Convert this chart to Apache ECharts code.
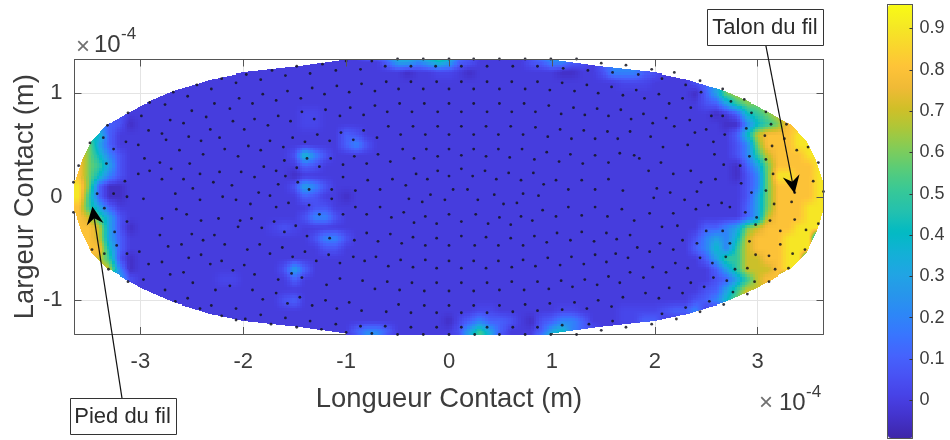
<!DOCTYPE html>
<html><head><meta charset="utf-8">
<style>html,body{margin:0;padding:0;background:#fff}#c{width:950px;height:440px}</style>
<script src="https://cdn.jsdelivr.net/npm/echarts@6/dist/echarts.min.js"></script></head>
<body><div id="c"></div>
<script>
// ---- axis ticks (unit: 1e-4 m) ----
const xTicks=[-3,-2,-1,0,1,2,3];
const yTicks=[-1,0,1];
const xLimit=[-3.64,3.64];
const yLimit=[-1.325,1.325];
const barTicks=[0,0.1,0.2,0.3,0.4,0.5,0.6,0.7,0.8,0.9];
const barLimit=[-0.091,0.958];
const parula=['#3E26A8','#4332CB','#4741E5','#4852F4','#4563FD','#3875FE','#2D87F7','#2796EB','#20A5E3','#12B1D6','#02BAC3','#24C1AE','#37C897','#57CC7A','#80CC59','#ABC739','#D1BF27','#F0BA36','#FEC338','#FAD62D','#F5E924','#F9FB15'];
// ---- contact outline, half height at |x| ----
const outlineX=[0,1.0,1.48,2.0,2.32,2.68,2.91,3.12,3.325,3.475,3.58,3.64];
const outlineY=[1.325,1.325,1.257,1.2,1.13,1.02,.92,.81,.69,.54,.33,.14];
// ---- pressure field: rows y=1.4..-1.4, nodes every 0.1; spans [xStart,levels]; everything else is the base level ----
const levelOf={'-':-0.05,'.':-0.006,'~':0.025,'+':0.06,'1':.1,'2':.2,'3':.3,'4':.4,'5':.5,'6':.6,'7':.7,'8':.8,'9':.9};
const fieldSpans=[
[[-.8,"33"],[-.6,"34445762"],[.9,"34442"]],
[[-.6,"13323431+"],[.8,"+1221+"],[1.5,"1222"]],
[[-.4,"-"],[-.1,"~~"],[.2,"-"],[1.1,"--"],[1.5,"+2221+"]],
[[1.7,"~~~"],[2.4,"+135"]],
[[2.4,"-"],[2.5,"136777"]],
[[2.5,"+135667"]],
[[-3.2,"+"],[-1.4,"~~"],[2.6,"-.145678"]],
[[-3.4,"21+-"],[-1.4,"~~"],[2.7,"--245688"]],
[[-3.5,"441"],[-1.0,"1+"],[2.8,"14788899"]],
[[-3.6,"7631"],[-1.0,"12+"],[2.8,"+26888999"]],
[[-3.7,"88642+"],[-1.5,"+42+"],[2.8,"+25788899"]],
[[-3.7,"88653+"],[-1.4,"1+"],[2.8,"-136888899"]],
[[-3.7,"88642+"],[-1.5,"-"],[2.8,"-+26998899"]],
[[-3.7,"9961--"],[-1.5,"+32+"],[2.9,"+26888899"]],
[[-3.7,"9951--"],[-1.4,"1+"],[-1.0,"-"],[2.9,"+36888899"]],
[[-3.7,"88531"],[-1.3,"++"],[2.9,"136888999"]],
[[-3.7,"88753+"],[-1.4,"+22+"],[2.9,"137888999"]],
[[-3.7,"88873+-"],[-1.7,"~+~"],[2.5,"112367888999"]],
[[-3.7,"888731"],[-1.3,"+22+"],[2.4,"+23247888999"]],
[[-3.7,"888841"],[-1.2,"++"],[2.4,"124257888999"]],
[[-3.5,"875+-"],[2.5,"1355778899"]],
[[-3.4,"872-"],[-1.6,"+31"],[2.5,".135777899"]],
[[-3.2,"3+"],[-2.2,"~~"],[-1.5,"1"],[2.5,".+135788"]],
[[2.5,"+135777"]],
[[-1.6,"+1"],[2.4,"+12468"]],
[[.3,"~~"],[1.1,"~~"],[1.7,"~~~~+112"]],
[[0,"-"],[.1,"~1211+"],[.8,"-"],[.9,"+1221"],[1.7,"~~11"]],
[[-.9,"1221"],[.1,"+3531"],[.9,"13421+"]],
[[-.8,"33"],[.2,"464"],[.9,"3553"]]
];
// ---- mesh nodes: x,y pairs, unit 1e-6 m ----
const meshNodes=[
-197,118,-172,122,-148,126,-123,128,-100,131,-75,131,-183,113,-159,117,-135,119,-110,122,-86,123,
-181,99,-157,102,-133,105,-109,107,-85,109,-191,90,-168,93,-144,95,-121,99,-97,101,-72,102,
-189,75,-166,78,-143,82,-120,84,-96,86,-72,88,-199,65,-176,69,-154,73,-131,75,-106,78,-83,79,
-195,49,-174,54,-152,57,-128,60,-105,62,-83,64,-183,45,-161,48,-140,53,-116,54,-93,55,-70,57,
-160,35,-138,37,-115,37,-92,39,-69,41,-180,29,-168,25,-148,28,-126,29,-103,31,-80,32,
-202,24,-189,19,-159,20,-103,19,-79,16,-166,12,-147,14,-136,7,-114,7,-91,6,-67,7,
-185,4,-174,1,-156,-6,-136,-8,-114,-2,-91,-10,-67,-10,-193,-7,-168,-10,-126,-17,-103,-17,-80,-17,
-192,-21,-170,-24,-149,-28,-138,-38,-160,-34,-116,-40,-92,-42,-80,-35,-182,-30,-184,-46,-162,-49,-196,-51,-140,-53,-117,-56,-93,-58,-69,-43,-71,-58,
-174,-55,-152,-58,-129,-62,-106,-64,-82,-62,-199,-66,-189,-75,-153,-74,-166,-80,-143,-78,-119,-85,-106,-79,-84,-81,
-191,-90,-168,-93,-145,-97,-120,-100,-97,-102,-72,-89,-181,-99,-157,-103,-133,-105,-109,-108,-85,-110,
-183,-114,-159,-117,-135,-120,-110,-123,-86,-125,-198,-118,-173,-123,-148,-126,-124,-128,-100,-131,-75,-132,
-221,114,-245,108,-268,101,-291,91,-312,81,-332,69,-349,52,-360,30,-365,14,-365,-15,-207,110,-231,104,-254,97,-276,89,-299,78,
-204,95,-228,90,-250,83,-271,74,-292,64,-314,53,-336,57,-333,32,-213,85,-236,77,-258,71,-279,61,-302,50,-326,46,
-210,73,-232,65,-253,58,-275,55,-296,37,-302,22,-223,57,-241,54,-262,45,-281,33,-205,39,-218,46,-239,41,-252,32,-270,27,-291,25,-315,15,-342,3,
-223,24,-242,22,-258,17,-279,17,-211,11,-229,14,-249,8,-266,3,-297,-2,-313,0,-326,3,-207,-3,-220,0,-242,-3,-265,-12,-279,-21,-313,-24,-335,-11,
-224,-21,-241,-23,-203,-23,-255,-17,
-347,-51,-335,-55,-331,-70,-323,-47,-313,-55,-325,-34,-301,-53,-297,-80,-292,-65,-281,-37,-279,-63,-273,-48,-271,-75,-260,-46,-258,-73,-253,-59,-250,-36,-249,-83,-241,-56,-239,-42,-232,-65,-228,-37,-227,-90,-221,-62,-218,-46,-213,-86,-210,-71,-207,-108,-205,-29,
-276,-90,-266,-101,-254,-98,-231,-105,-221,-115,-242,-108,-312,-82,-207,-119,
197,123,219,120,244,112,266,104,287,94,308,82,328,70,349,48,359,33,364,5,207,114,230,108,245,101,274,92,294,81,313,70,326,56,338,45,354,15,
190,95,214,90,204,99,227,95,235,86,255,78,266,78,289,66,307,59,314,49,189,80,211,76,234,74,250,65,219,68,239,62,198,71,196,58,208,48,232,50,257,53,268,60,292,39,308,36,315,22,
206,33,235,25,218,22,245,14,259,17,267,31,283,30,284,13,258,41,185,37,194,25,202,8,215,4,229,-3,199,-1,241,5,265,-6,294,4,308,6,333,-5,316,-7,336,4,
218,-16,240,-12,252,-8,273,-10,288,-15,312,-23,336,-22,359,-26,299,-20,195,-16,
207,-29,222,-28,250,-33,266,-33,298,-27,322,-33,347,-32,292,-43,273,-45,241,-45,227,-42,205,-45,322,-46,298,-56,311,-57,334,-55,346,-51,269,-58,244,-59,218,-51,195,-53,198,-68,220,-64,232,-69,256,-64,278,-70,290,-69,317,-70,330,-69,
189,-78,211,-73,235,-83,257,-78,270,-81,297,-82,311,-82,191,-93,214,-88,227,-93,248,-87,276,-92,290,-94,204,-98,253,-101,267,-104,230,-107,244,-111,207,-113,221,-118,197,-123,
-50,133,-25,133,0,133,24,133,49,133,74,133,99,133,124,133,148,129,172,127,
-62,126,-37,126,-13,126,12,126,37,126,62,126,86,126,111,124,135,122,159,120,184,118,
-61,111,-37,111,-12,111,12,111,37,111,61,111,86,111,110,110,134,108,158,106,182,103,
-49,104,-25,104,0,104,24,104,49,104,74,104,98,103,122,102,145,100,169,98,
-48,90,-24,90,0,90,24,90,49,90,73,90,97,88,121,86,144,85,167,84,
-60,82,-36,82,-11,82,12,82,37,82,61,82,84,82,109,80,132,79,155,78,177,75,
-59,68,-35,68,-11,68,12,68,36,68,60,68,84,67,108,65,131,64,154,63,176,63,
-47,60,-23,60,0,60,24,60,48,60,72,60,96,58,119,56,142,56,164,56,
-45,46,-22,46,0,46,24,46,48,46,71,46,95,43,118,41,142,40,166,42,180,40,
-57,34,-34,37,-11,39,12,40,36,39,59,38,83,36,107,34,130,32,155,33,
-32,22,-11,25,12,27,35,25,23,20,-55,17,-21,17,0,20,46,17,58,23,70,16,82,23,92,12,104,16,129,16,155,17,
-42,11,-18,2,4,7,18,7,44,2,72,3,87,1,116,7,142,7,169,6,
-39,-2,-26,-5,-4,-3,28,-3,53,-7,66,-6,91,-13,116,-10,142,-10,168,-12,
-44,-15,-23,-19,0,-17,26,-17,49,-20,70,-19,81,-23,104,-19,129,-18,154,-19,180,-23,
-56,-20,-34,-25,-12,-26,12,-24,38,-26,60,-27,
-57,-36,-35,-39,-12,-40,12,-38,36,-39,60,-40,83,-38,105,-35,129,-34,153,-35,176,-37,
-46,-45,-23,-47,0,-47,25,-47,48,-47,72,-47,95,-44,118,-42,141,-43,163,-41,183,-49,
-47,-61,-23,-61,0,-62,24,-62,48,-62,72,-61,96,-59,119,-58,142,-56,162,-55,
-59,-67,-35,-68,-12,-69,12,-69,36,-69,61,-68,84,-67,108,-66,131,-65,153,-63,174,-59,
-60,-82,-36,-83,-12,-83,12,-83,37,-83,61,-82,86,-82,109,-81,132,-80,155,-77,176,-73,
-48,-90,-24,-91,0,-91,24,-91,49,-90,73,-90,97,-89,120,-87,144,-85,166,-83,
-49,-104,-24,-105,0,-105,24,-105,49,-105,74,-104,98,-103,122,-102,145,-100,169,-97,
-61,-111,-37,-112,-12,-112,12,-112,37,-112,62,-111,86,-110,110,-109,134,-108,158,-106,
-62,-125,-37,-126,-12,-126,12,-126,37,-126,62,-126,86,-126,110,-124,136,-123,159,-120,172,-126,
-50,-133,-25,-133,0,-133,25,-133,49,-133,74,-133,99,-133,124,-133,148,-129
];
// ---- annotations (unit: 1e-4 m) ----
const noteLabels=['Talon du fil','Pied du fil'];
const noteTails=[[3.078,1.469],[-3.178,-1.946]];
const noteTips=[[3.359,0.032],[-3.466,-0.094]];
const noteBoxes=[[3.071,1.638],[-3.173,-2.12]];

// ---- build ----
const nx=75, ny=29;
const base=levelOf['.'];
const field=fieldSpans.map(spans=>{
  const r=new Array(nx).fill(base);
  spans.forEach(([x0,s])=>{const i0=Math.round((x0+3.7)*10);for(let k=0;k<s.length;k++)r[i0+k]=levelOf[s[k]];});
  return r;
});
const gx=i=>-3.7+i*0.1, gy=j=>1.4-j*0.1;
const quads=[];
for(let j=0;j<ny-1;j++)for(let i=0;i<nx-1;i++)quads.push([+gx(i).toFixed(1),+gy(j).toFixed(1),field[j][i]]);
const edge=ax=>{
  if(ax>outlineX[outlineX.length-1])return -1;
  for(let k=1;k<outlineX.length;k++)if(ax<=outlineX[k]){const t=(ax-outlineX[k-1])/(outlineX[k]-outlineX[k-1]);return outlineY[k-1]+t*(outlineY[k]-outlineY[k-1]);}
  return -1;
};
const inside=(x,y)=>Math.abs(y)<=edge(Math.abs(x));
const rgb=parula.map(h=>[parseInt(h.slice(1,3),16),parseInt(h.slice(3,5),16),parseInt(h.slice(5,7),16)]);
const colorOf=v=>{
  let t=(v-barLimit[0])/(barLimit[1]-barLimit[0]);t=Math.max(0,Math.min(1,t))*(rgb.length-1);
  const k=Math.min(rgb.length-2,Math.floor(t)),f=t-k,a=rgb[k],b=rgb[k+1];
  return 'rgb('+Math.round(a[0]+f*(b[0]-a[0]))+','+Math.round(a[1]+f*(b[1]-a[1]))+','+Math.round(a[2]+f*(b[2]-a[2]))+')';
};
function renderField(params,api){
  const id=params.dataIndex,i=id%(nx-1),j=Math.floor(id/(nx-1));
  const x0=api.value(0),y0=api.value(1),x1=x0+0.1,y1=y0-0.1;
  const a=field[j][i],b=field[j][i+1],c=field[j+1][i],d=field[j+1][i+1];
  const p0=api.coord([x0,y0]),p1=api.coord([x1,y1]);
  const allIn=inside(x0,y0)&&inside(x1,y0)&&inside(x0,y1)&&inside(x1,y1);
  const rx=v=>Math.round(v);
  if(allIn&&a===b&&b===c&&c===d){
    return {type:'rect',silent:true,shape:{x:rx(p0[0]),y:rx(p0[1]),width:rx(p1[0])-rx(p0[0]),height:rx(p1[1])-rx(p0[1])},style:{fill:colorOf(a)}};
  }
  const SUB=allIn?4:10;
  const children=[];
  for(let sy=0;sy<SUB;sy++)for(let sx=0;sx<SUB;sx++){
    const u=(sx+.5)/SUB,w=(sy+.5)/SUB,xc=x0+u*.1,yc=y0-w*.1;
    if(!inside(xc,yc))continue;
    const v=a*(1-u)*(1-w)+b*u*(1-w)+c*(1-u)*w+d*u*w;
    const L=rx(p0[0]+(p1[0]-p0[0])*sx/SUB),R=rx(p0[0]+(p1[0]-p0[0])*(sx+1)/SUB);
    const T=rx(p0[1]+(p1[1]-p0[1])*sy/SUB),B=rx(p0[1]+(p1[1]-p0[1])*(sy+1)/SUB);
    if(R>L&&B>T)children.push({type:'rect',silent:true,shape:{x:L,y:T,width:R-L,height:B-T},style:{fill:colorOf(v)}});
  }
  return {type:'group',silent:true,children};
}
const dotData=[];
for(let k=0;k<meshNodes.length;k+=2)dotData.push([meshNodes[k]/100,meshNodes[k+1]/100]);
function renderNote(params,api){
  const tail=api.coord([api.value(0),api.value(1)]),tip=api.coord([api.value(2),api.value(3)]),box=api.coord([api.value(4),api.value(5)]);
  const w=params.dataIndex===0?116:106,h=36;
  const ang=Math.atan2(tip[1]-tail[1],tip[0]-tail[0]),ca=Math.cos(ang),sa=Math.sin(ang);
  const P=(al,pe)=>[tip[0]+ca*al-sa*pe,tip[1]+sa*al+ca*pe];
  return {type:'group',silent:true,children:[
    {type:'line',shape:{x1:tail[0],y1:tail[1],x2:tip[0]-ca*8,y2:tip[1]-sa*8},style:{stroke:'#111',lineWidth:1.2}},
    {type:'polygon',shape:{points:[P(0,0),P(-18,8.5),P(-12,0),P(-18,-8.5)]},style:{fill:'#000'}},
    {type:'rect',shape:{x:Math.round(box[0]-w/2)+.5,y:Math.round(box[1]-h/2)+.5,width:w,height:h},style:{fill:'#fff',stroke:'#333',lineWidth:1}},
    {type:'text',style:{x:box[0],y:box[1]+.5,text:noteLabels[params.dataIndex],fill:'#2b2b2b',font:'22px "Liberation Sans"',align:'center',verticalAlign:'middle'}}
  ]};
}
const TXT='#3c3c3c',LINE='#555',FONT='"Liberation Sans"';
const hiddenAxisBits={axisLabel:{show:false},splitLine:{show:false}};
const opt={
  animation:false,backgroundColor:'#fff',
  textStyle:{fontFamily:FONT},
  grid:[
    {left:74.5,top:59.5,width:749,height:274.5,outerBoundsMode:'none'},
    {left:887.5,top:4.5,width:25,height:433.5,outerBoundsMode:'none'}
  ],
  xAxis:[
    {type:'value',gridIndex:0,position:'bottom',min:xLimit[0],max:xLimit[1],
     name:'Longueur Contact (m)',nameLocation:'middle',nameGap:52,nameTextStyle:{fontSize:27.4,color:TXT,fontFamily:FONT},
     axisLine:{show:true,onZero:false,lineStyle:{color:LINE}},
     axisTick:{show:true,inside:true,length:7,lineStyle:{color:LINE},customValues:xTicks},
     axisLabel:{color:TXT,fontSize:22,margin:17,fontFamily:FONT,customValues:xTicks,formatter:v=>String(v)},
     splitLine:{show:true,lineStyle:{color:'#e4e4e4'}}},
    Object.assign({type:'value',gridIndex:0,position:'top',min:xLimit[0],max:xLimit[1],z:4,
     axisLine:{show:true,onZero:false,lineStyle:{color:LINE}},
     axisTick:{show:true,inside:true,length:7,lineStyle:{color:LINE},customValues:xTicks}},hiddenAxisBits),
    Object.assign({type:'value',gridIndex:1,position:'bottom',min:0,max:1,z:5,
     axisLine:{show:true,onZero:false,lineStyle:{color:LINE}},axisTick:{show:false}},hiddenAxisBits),
    Object.assign({type:'value',gridIndex:1,position:'top',min:0,max:1,z:5,
     axisLine:{show:true,onZero:false,lineStyle:{color:LINE}},axisTick:{show:false}},hiddenAxisBits)
  ],
  yAxis:[
    {type:'value',gridIndex:0,position:'left',min:yLimit[0],max:yLimit[1],
     name:'Largeur Contact (m)',nameLocation:'middle',nameGap:36,nameMoveOverlap:false,nameRotate:90,nameTextStyle:{fontSize:27.4,color:TXT,fontFamily:FONT},
     axisLine:{show:true,onZero:false,lineStyle:{color:LINE}},
     axisTick:{show:true,inside:true,length:7,lineStyle:{color:LINE},customValues:yTicks},
     axisLabel:{color:TXT,fontSize:22,margin:12,fontFamily:FONT,customValues:yTicks,formatter:v=>String(v)},
     splitLine:{show:true,lineStyle:{color:'#e4e4e4'}}},
    Object.assign({type:'value',gridIndex:0,position:'right',min:yLimit[0],max:yLimit[1],z:4,
     axisLine:{show:true,onZero:false,lineStyle:{color:LINE}},
     axisTick:{show:true,inside:true,length:7,lineStyle:{color:LINE},customValues:yTicks}},hiddenAxisBits),
    Object.assign({type:'value',gridIndex:1,position:'left',min:barLimit[0],max:barLimit[1],z:5,
     axisLine:{show:true,onZero:false,lineStyle:{color:LINE}},axisTick:{show:false}},hiddenAxisBits),
    {type:'value',gridIndex:1,position:'right',min:barLimit[0],max:barLimit[1],z:5,
     axisLine:{show:true,onZero:false,lineStyle:{color:LINE}},
     axisTick:{show:true,inside:true,length:3,lineStyle:{color:'#333'},customValues:barTicks},
     axisLabel:{color:TXT,fontSize:18,margin:7,fontFamily:FONT,customValues:barTicks,formatter:v=>v===0?'0':v.toFixed(1)},
     splitLine:{show:false}}
  ],
  visualMap:{type:'continuous',seriesIndex:0,dimension:2,min:barLimit[0],max:barLimit[1],
    left:888,top:5,itemWidth:25,itemHeight:433,padding:0,text:null,showLabel:false,calculable:false,hoverLink:false,realtime:false,
    inRange:{color:parula}},
  series:[
    {type:'custom',xAxisIndex:0,yAxisIndex:0,data:quads,encode:{x:0,y:1},renderItem:renderField,z:2,silent:true,clip:false,progressive:0},
    {type:'scatter',xAxisIndex:0,yAxisIndex:0,data:dotData,symbolSize:2.8,itemStyle:{color:'#14141f',opacity:.85},z:3,silent:true,clip:false,progressive:0},
    {type:'custom',xAxisIndex:0,yAxisIndex:0,
     data:noteLabels.map((_,k)=>[noteTails[k][0],noteTails[k][1],noteTips[k][0],noteTips[k][1],noteBoxes[k][0],noteBoxes[k][1]]),
     encode:{x:[0,2,4],y:[1,3,5]},renderItem:renderNote,z:6,silent:true,clip:false}
  ],
  graphic:[
    {type:'text',x:76,y:35,style:{text:'×',fontSize:24,fontFamily:FONT,fill:'#707070'}},
    {type:'text',x:94,y:33,style:{text:'10',fontSize:24,fontFamily:FONT,fill:TXT}},
    {type:'text',x:121,y:26,style:{text:'-4',fontSize:17,fontFamily:FONT,fill:TXT}},
    {type:'text',x:759,y:391,style:{text:'×',fontSize:24,fontFamily:FONT,fill:'#707070'}},
    {type:'text',x:779,y:391,style:{text:'10',fontSize:24,fontFamily:FONT,fill:TXT}},
    {type:'text',x:806,y:384,style:{text:'-4',fontSize:17,fontFamily:FONT,fill:TXT}}
  ]
};
const chart=echarts.init(document.getElementById('c'),null,{renderer:'canvas'});
chart.setOption(opt);
</script></body></html>
